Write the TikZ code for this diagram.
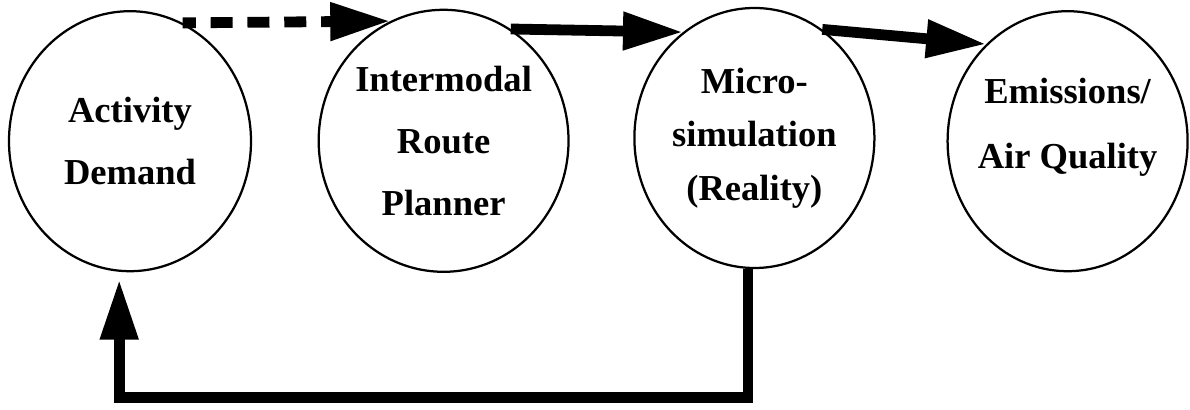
\documentclass[tikz,border=0pt]{standalone}
\usepackage{fontspec}
\setmainfont{Liberation Serif}
\usetikzlibrary{shapes.geometric,arrows.meta}

\begin{document}
\begin{tikzpicture}
\tikzstyle{place}=[ellipse,draw,line width=1.6pt,inner sep=0pt,minimum width=6cm,minimum height=6.5cm,align=center,font=\fontsize{26}{44}\selectfont\bfseries]
\tikzstyle{flow}=[-{Triangle[length=1.5cm,width=0.9cm]},line width=0.27cm]
 \useasboundingbox (0,0) rectangle (29.75,-10.25);
 \node[place, minimum width=6.05cm] (act) at (3.25,-3.53) {Activity\\Demand};
 \node[place, minimum width=5.9cm, minimum height=6.55cm] (route) at (11.09,-3.52) {Intermodal\\Route\\Planner};
 \node[place, font=\fontsize{26}{38}\selectfont\bfseries] (sim) at (18.86,-3.45) {Micro-\\simulation\\(Reality)};
 \node[place] (emis) at (26.69,-3.53) {};
 \node[align=center, font=\fontsize{26}{46}\selectfont\bfseries] (emistext) at ([yshift=0.35cm]emis.center) {Emissions/\\Air Quality};
 \draw[flow, dash pattern=on 0.55cm off 0.37cm, dash phase=0.22cm] (act.66) -- (route.114);
 \draw[flow] (route.59) -- (sim.124);
 \draw[flow] (sim.58) -- (emis.130);
 %\draw [->] (emis) -- (act);
 \draw[flow] ([xshift=-0.16cm]sim.south) -- ++(0,-3.2) -| ([xshift=-0.27cm,yshift=-0.18cm]act.south);
\end{tikzpicture}
\end{document}
